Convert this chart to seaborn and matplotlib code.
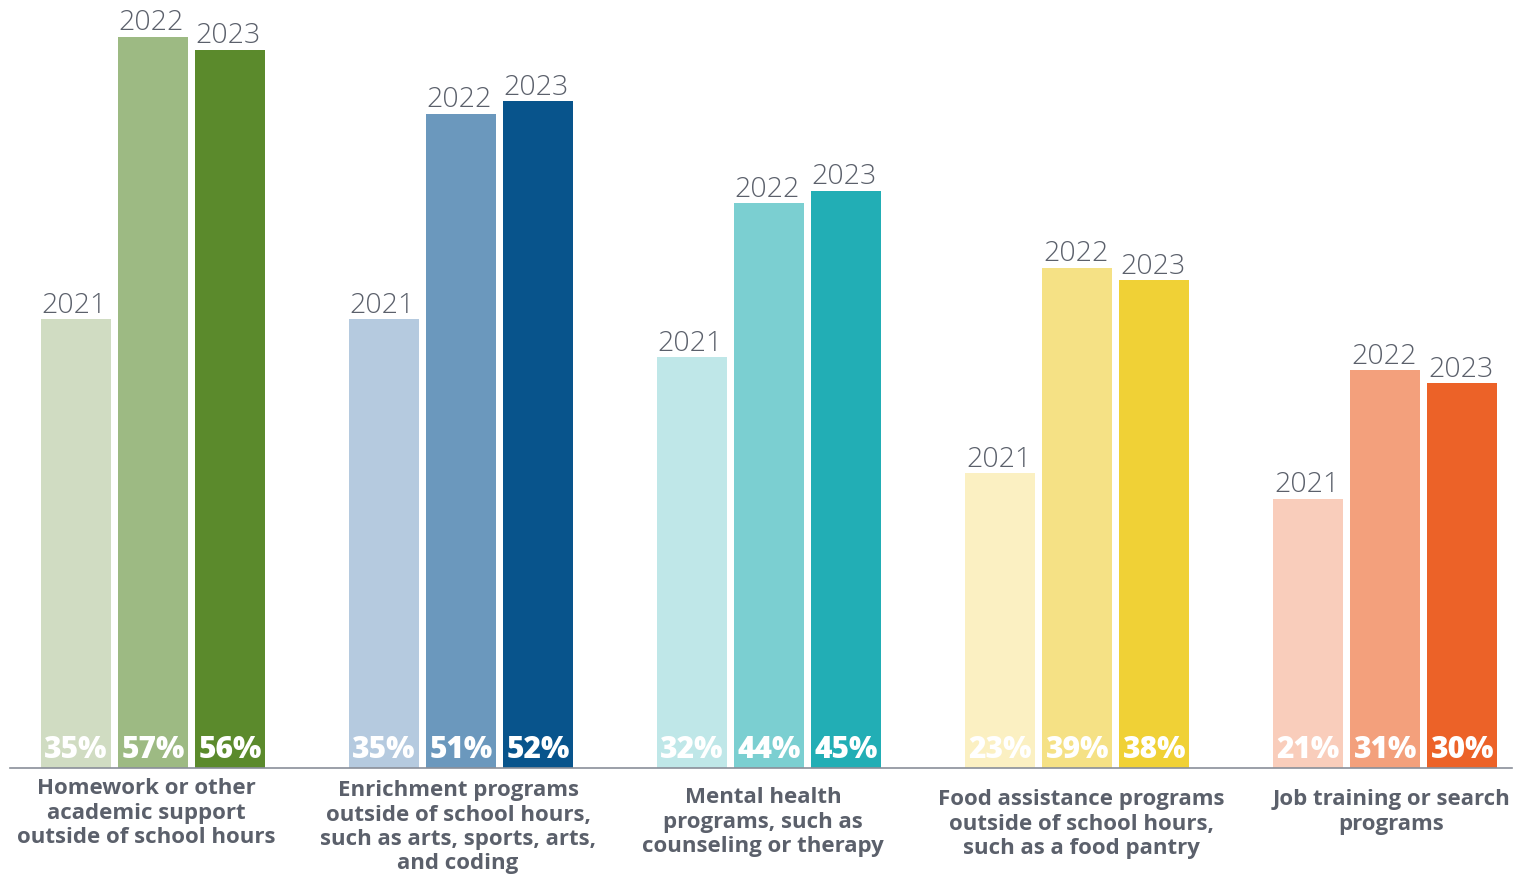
import matplotlib
matplotlib.use("Agg")
import matplotlib.pyplot as plt
import matplotlib.transforms as mtransforms
import seaborn as sns
import pandas as pd

# Survey shares (%) of respondents by program type and year
categories = [
    "Homework or other\nacademic support\noutside of school hours",
    "Enrichment programs\noutside of school hours,\nsuch as arts, sports, arts,\nand coding",
    "Mental health\nprograms, such as\ncounseling or therapy",
    "Food assistance programs\noutside of school hours,\nsuch as a food pantry",
    "Job training or search\nprograms",
]
years = ["2021", "2022", "2023"]
values_2021 = [35, 35, 32, 23, 21]
values_2022 = [57, 51, 44, 39, 31]
values_2023 = [56, 52, 45, 38, 30]

# One shade ramp (light -> dark) per program type
palette_by_category = [
    ["#d0dcc2", "#9dba83", "#5b8a2c"],
    ["#b5cadf", "#6b98bd", "#08548c"],
    ["#bfe7e8", "#7bcfd1", "#22aeb5"],
    ["#fbf0c2", "#f5e185", "#f0d136"],
    ["#f9cdbb", "#f3a07c", "#ec6228"],
]

df = pd.DataFrame({
    "category": categories * 3,
    "year": [y for y in years for _ in categories],
    "value": values_2021 + values_2022 + values_2023,
})

sns.set_theme(style="white")
plt.rcParams["font.family"] = ["Open Sans", "DejaVu Sans"]

TEXT_GREY = "#5b606b"

W, H = 1522, 876
fig = plt.figure(figsize=(W / 100, H / 100), dpi=100)
ax = fig.add_axes([10 / W, (H - 768) / H, 1502 / W, 768 / H])

sns.barplot(
    data=df, x="category", y="value", hue="year",
    order=categories, hue_order=years,
    width=0.75, gap=0.09, dodge=True, legend=False,
    saturation=1, ax=ax,
)

ax.set_xlim(-0.464, 4.411)
ax.set_ylim(0, 59.86)

for hi, container in enumerate(ax.containers):
    for ci, bar in enumerate(container.patches):
        bar.set_facecolor(palette_by_category[ci][hi])
        bar.set_edgecolor("none")
        x0 = bar.get_x()
        w = bar.get_width()
        h = bar.get_height()
        # year tag above the bar, aligned with its left edge
        ax.annotate(
            years[hi], xy=(x0, h), xytext=(0.5, 4.5), textcoords="offset points",
            ha="left", va="baseline", fontsize=20.5, fontweight="light",
            color=TEXT_GREY,
        )
        # value inside the bar, at its foot
        ax.annotate(
            f"{int(h)}%", xy=(x0 + w / 2, 0), xytext=(0, 7.2),
            textcoords="offset points", ha="center", va="baseline",
            fontsize=21.5, fontweight="heavy", color="white",
        )

sns.despine(ax=ax, left=True, top=True, right=True, bottom=False)
ax.spines["bottom"].set_color("#8a8f99")
ax.spines["bottom"].set_linewidth(1.2)
ax.set_yticks([])
ax.set_xlabel("")
ax.set_ylabel("")
ax.tick_params(axis="x", length=0, pad=6)
ax.set_xticks(range(len(categories)))
ax.set_xticklabels(categories, fontsize=16, fontweight="bold",
                   color=TEXT_GREY, linespacing=1.2, va="top")

# small per-label nudges (in pixels) for the category captions
label_nudges = [(-7, -2), (-3, -4), (-6, -11), (4, -13), (6, -13)]
for lbl, (dx, dy) in zip(ax.get_xticklabels(), label_nudges):
    offset = mtransforms.ScaledTranslation(dx / 100, dy / 100, fig.dpi_scale_trans)
    lbl.set_transform(lbl.get_transform() + offset)

fig.savefig("out.png", dpi=100, facecolor="white")
